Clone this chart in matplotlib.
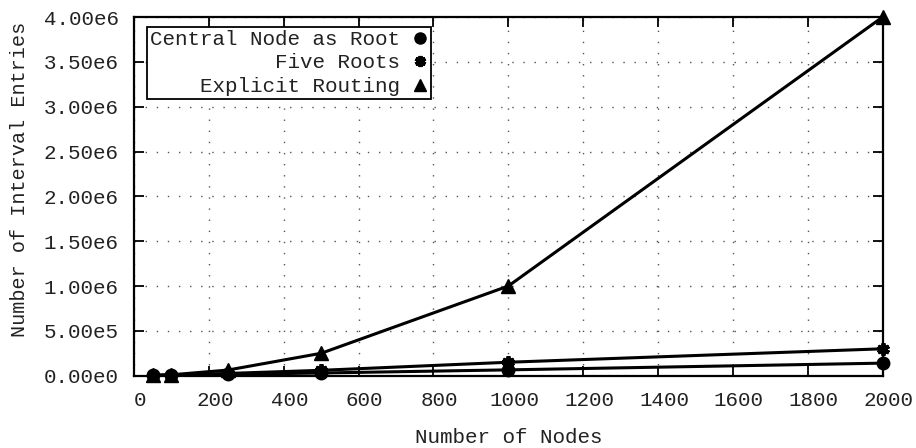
import matplotlib
matplotlib.use("Agg")
import matplotlib.pyplot as plt
from matplotlib.ticker import FuncFormatter, MultipleLocator
from matplotlib.transforms import ScaledTranslation

# number of nodes in each test topology
nodes = [50, 100, 250, 500, 1000, 2000]

# interval entries per routing scheme
central_root = [3000, 6000, 15000, 30000, 65000, 140000]
five_roots = [5000, 10000, 25000, 60000, 150000, 300000]
explicit_routing = [2500, 10000, 62500, 250000, 1000000, 4000000]

plt.rcParams["font.family"] = ["Liberation Mono", "DejaVu Sans Mono"]
plt.rcParams["font.size"] = 15


def sci_label(v, pos):
    if v == 0:
        return "0.00e0"
    exp = int(f"{v:e}".split("e")[1])
    return f"{v / 10 ** exp:.2f}e{exp}"


fig = plt.figure(figsize=(9.16, 4.48), dpi=100)
ax = fig.add_axes([0.1463, 0.1614, 0.8173, 0.8006])

ax.plot(nodes, central_root, color="black", lw=2.2, marker="o", ms=9,
        label="Central Node as Root", clip_on=False)
ax.plot(nodes, five_roots, color="black", lw=2.2, marker=(6, 2, 0), ms=9,
        mew=2.8, label="Five Roots", clip_on=False)
ax.plot(nodes, explicit_routing, color="black", lw=2.2, marker="^", ms=10,
        label="Explicit Routing", clip_on=False)

ax.set_xlim(0, 2000)
ax.set_ylim(0, 4.0e6)
ax.xaxis.set_major_locator(MultipleLocator(200))
ax.yaxis.set_major_locator(MultipleLocator(5e5))
ax.yaxis.set_major_formatter(FuncFormatter(sci_label))

ax.grid(True, linestyle=(0, (1, 7)), color="#555555", lw=1.0)
ax.tick_params(direction="in", length=7, width=1.3, top=True, right=True,
               pad=11, labelsize=15, labelcolor="#222222")
for s in ax.spines.values():
    s.set_linewidth(1.6)

# x tick labels sit slightly right of their ticks
shift = ScaledTranslation(6 / 100, 0, fig.dpi_scale_trans)
for lbl in ax.get_xticklabels():
    lbl.set_transform(lbl.get_transform() + shift)

ax.set_xlabel("Number of Nodes", labelpad=13, color="#222222")
ax.set_ylabel("Number of Interval Entries", fontsize=14.5, color="#222222")
ax.yaxis.set_label_coords(-0.140, 0.547)

handles, labels = ax.get_legend_handles_labels()
keys = [plt.Line2D([], [], color="black", ls="none", marker=h.get_marker(),
                   ms=h.get_markersize() - 1, mew=h.get_markeredgewidth())
        for h in handles]
leg = ax.legend(keys, labels, loc="upper left", bbox_to_anchor=(0.0178, 0.973),
                borderaxespad=0, markerfirst=False, handlelength=0.7,
                handletextpad=0.6, labelspacing=0.22, borderpad=0.15,
                fancybox=False, framealpha=1, edgecolor="black", fontsize=15)
leg.get_frame().set_linewidth(1.3)
for t in leg.get_texts():
    t.set_color("#222222")

fig.savefig("out.png", dpi=100)
